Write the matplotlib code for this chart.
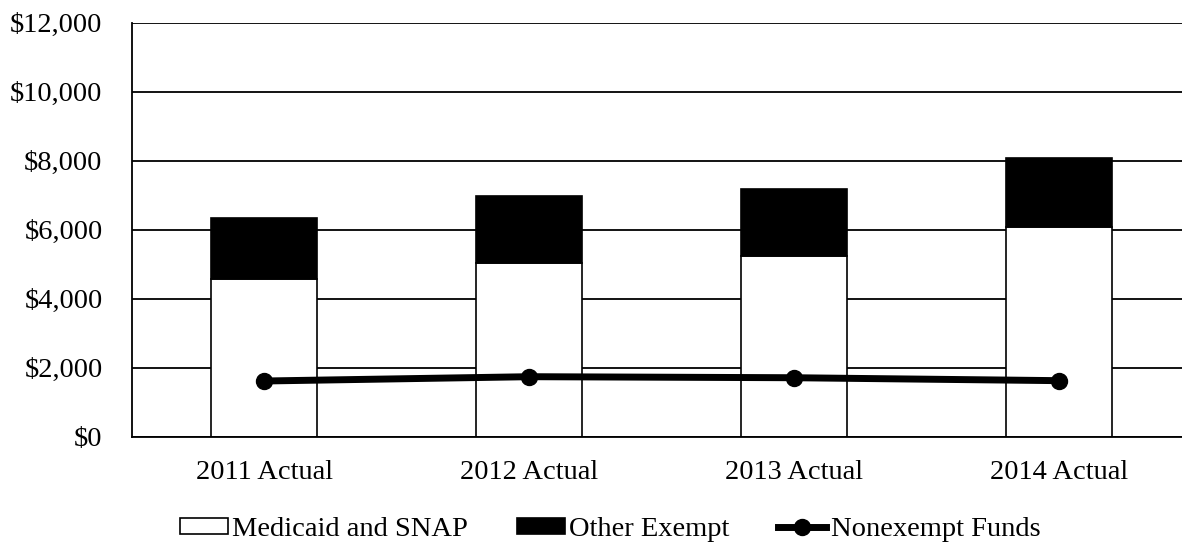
import matplotlib
matplotlib.use("Agg")
import matplotlib.pyplot as plt
from matplotlib.ticker import FuncFormatter

# Spending by fund type (millions of dollars)
categories = ["2011 Actual", "2012 Actual", "2013 Actual", "2014 Actual"]
medicaid_snap = [4570, 5045, 5245, 6070]
other_exempt = [1760, 1940, 1935, 2015]
nonexempt = [1615, 1740, 1710, 1625]
y_ticks = [0, 2000, 4000, 6000, 8000, 10000, 12000]

plt.rcParams["font.family"] = ["Liberation Serif", "DejaVu Serif"]
FS = 20.5

fig = plt.figure(figsize=(11.82, 5.44), dpi=100)
ax = fig.add_axes([0.1114, 0.1972, 0.8968, 0.7610])

x = list(range(len(categories)))
w = 0.4
b1 = ax.bar(x, medicaid_snap, width=w, color="white", edgecolor="black",
            linewidth=1.2, label="Medicaid and SNAP", zorder=2)
b2 = ax.bar(x, other_exempt, width=w, bottom=medicaid_snap, color="black",
            edgecolor="black", linewidth=1.2, label="Other Exempt", zorder=2)
ln, = ax.plot(x, nonexempt, color="black", linewidth=5, marker="o",
              markersize=11.5, label="Nonexempt Funds", zorder=3)

ax.set_xlim(-0.5, len(categories) - 0.5)
ax.set_ylim(0, 12000)
ax.set_yticks(y_ticks)
ax.yaxis.set_major_formatter(FuncFormatter(lambda v, p: f"${v:,.0f}"))
ax.set_xticks(x)
ax.set_xticklabels(categories)
ax.tick_params(axis="both", length=0, labelsize=FS)
ax.tick_params(axis="y", pad=21)
ax.tick_params(axis="x", pad=17)

ax.set_axisbelow(True)
ax.yaxis.grid(True, color="black", linewidth=1.3)
for side in ("top", "right"):
    ax.spines[side].set_visible(False)
for side in ("left", "bottom"):
    ax.spines[side].set_linewidth(1.3)
    ax.spines[side].set_color("black")

fig.legend(handles=[b1, b2, ln], loc="center", bbox_to_anchor=(0.516, 0.026),
           ncol=3, frameon=False, fontsize=FS, handlelength=1.7,
           handleheight=0.5, handletextpad=0.15, columnspacing=1.7,
           borderpad=0, borderaxespad=0)

fig.savefig("out.png", dpi=100)
